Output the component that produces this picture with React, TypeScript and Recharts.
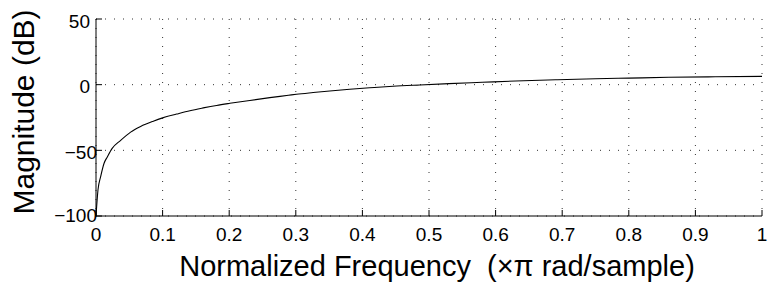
import { LineChart, Line, XAxis, YAxis, CartesianGrid } from 'recharts'

// normalized frequency (x pi rad/sample) and magnitude response in dB
const FREQ = [
  0, 0.003, 0.007, 0.012, 0.017, 0.024, 0.037, 0.052, 0.067, 0.086, 0.1, 0.121, 0.141, 0.161,
  0.181, 0.201, 0.231, 0.261, 0.289, 0.301, 0.326, 0.351, 0.381, 0.411, 0.446, 0.486, 0.53,
  0.58, 0.63, 0.69, 0.75, 0.8, 0.86, 0.93, 1,
]
const MAG_DB = [
  -100, -80, -70, -60, -55, -48.7, -42.4, -36.1, -31.8, -27.8, -25.3, -22.4, -19.8, -17.7,
  -15.8, -14.2, -12.0, -9.9, -8.1, -7.3, -6.0, -4.8, -3.5, -2.4, -1.2, -0.2, 0.8,
  1.8, 2.8, 3.7, 4.5, 5.0, 5.6, 6.0, 6.3,
]

const X_TICKS = [0, 0.1, 0.2, 0.3, 0.4, 0.5, 0.6, 0.7, 0.8, 0.9, 1]
const X_TICK_LABELS = ['0', '0.1', '0.2', '0.3', '0.4', '0.5', '0.6', '0.7', '0.8', '0.9', '1']
const Y_TICKS = [-100, -50, 0, 50]

const data = FREQ.map((f, i) => ({ f, mag: MAG_DB[i] }))

const FONT = "'Liberation Sans', Arial, Helvetica, sans-serif"
const TICK_LEN = 6

const fmtY = (v: number) => (v < 0 ? '\u2212' + Math.abs(v) : String(v))

function BottomTick({ x, y, payload, index }: any) {
  return (
    <g>
      <line x1={x} y1={y} x2={x} y2={y - TICK_LEN} stroke="#000" />
      <text x={x} y={y + 25} textAnchor="middle" fontSize={19} fontFamily={FONT} fill="#000">
        {X_TICK_LABELS[index] ?? String(payload.value)}
      </text>
    </g>
  )
}

function TopTick({ x, y }: any) {
  return <line x1={x} y1={y} x2={x} y2={y + TICK_LEN} stroke="#000" />
}

function LeftTick({ x, y, payload }: any) {
  const v = payload.value as number
  // negative labels sit a little closer to the axis
  const tx = v < 0 ? x + 1 : x - 6
  const dy = v === -100 ? 6 : 8.5
  return (
    <g>
      <line x1={x} y1={y} x2={x + TICK_LEN} y2={y} stroke="#000" />
      <text x={tx} y={y + dy} textAnchor="end" fontSize={19} fontFamily={FONT} fill="#000">
        {fmtY(v)}
      </text>
    </g>
  )
}

function RightTick({ x, y }: any) {
  return <line x1={x} y1={y} x2={x - TICK_LEN} y2={y} stroke="#000" />
}

export default function App() {
  return (
    <div style={{ position: 'absolute', left: 0, top: 0, width: 777, height: 285, background: '#fff' }}>
      <LineChart width={777} height={285} data={data} margin={{ top: 19, right: 15, bottom: 0, left: 0 }}>
        <CartesianGrid stroke="#333" strokeDasharray="1 8" />
        <XAxis
          dataKey="f"
          type="number"
          domain={[0, 1]}
          ticks={X_TICKS}
          interval={0}
          height={69}
          tickSize={0}
          tickMargin={0}
          axisLine={{ stroke: '#000' }}
          tickLine={false}
          tick={(p: any) => <BottomTick {...p} />}
        />
        <XAxis
          xAxisId="top"
          orientation="top"
          type="number"
          domain={[0, 1]}
          ticks={X_TICKS}
          interval={0}
          height={0}
          tickSize={0}
          tickMargin={0}
          axisLine={{ stroke: '#000' }}
          tickLine={false}
          tick={(p: any) => <TopTick {...p} />}
        />
        <YAxis
          type="number"
          domain={[-100, 50]}
          ticks={Y_TICKS}
          interval={0}
          allowDataOverflow
          width={96}
          tickSize={0}
          tickMargin={0}
          axisLine={{ stroke: '#000' }}
          tickLine={false}
          tick={(p: any) => <LeftTick {...p} />}
        />
        <YAxis
          yAxisId="right"
          orientation="right"
          type="number"
          domain={[-100, 50]}
          ticks={Y_TICKS}
          interval={0}
          width={0}
          tickSize={0}
          tickMargin={0}
          axisLine={{ stroke: '#000' }}
          tickLine={false}
          tick={(p: any) => <RightTick {...p} />}
        />
        <Line
          dataKey="mag"
          type="monotone"
          stroke="#000"
          strokeWidth={1.1}
          dot={false}
          activeDot={false}
          isAnimationActive={false}
        />
      </LineChart>
      <svg width={777} height={285} style={{ position: 'absolute', left: 0, top: 0, pointerEvents: 'none' }}>
        <text
          x={437}
          y={276}
          textAnchor="middle"
          fontSize={29}
          fontFamily={FONT}
          fill="#000"
          style={{ whiteSpace: 'pre' }}
        >
          {'Normalized Frequency  (\u00d7\u03c0 rad/sample)'}
        </text>
        <text
          x={34}
          y={112}
          transform="rotate(-90 34 112)"
          textAnchor="middle"
          fontSize={30}
          fontFamily={FONT}
          fill="#000"
        >
          Magnitude (dB)
        </text>
      </svg>
    </div>
  )
}
